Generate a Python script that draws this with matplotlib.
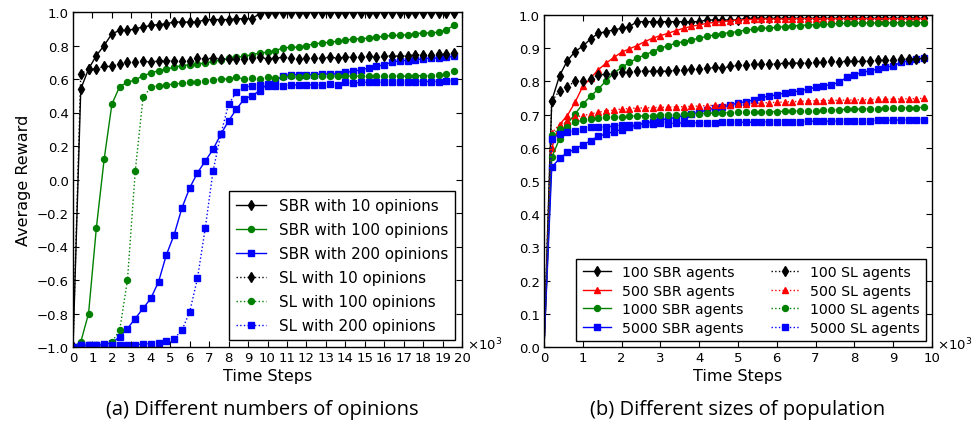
import numpy as np
import matplotlib
matplotlib.use("Agg")
import matplotlib.pyplot as plt

# ---------------- data: panel (a) ----------------
steps_a = np.arange(50) * 0.4  # x 10^3 time steps

sbr_10 = [-1.0, 0.54, 0.66, 0.74, 0.80, 0.87, 0.89, 0.89, 0.90, 0.91,
          0.92, 0.925, 0.93, 0.94, 0.94, 0.94, 0.94, 0.955, 0.955, 0.955,
          0.955, 0.96, 0.96, 0.96, 0.99, 0.997, 0.997, 0.997, 0.997, 0.997,
          0.997, 0.997, 0.997, 0.997, 0.997, 0.997, 0.997, 0.997, 0.997, 0.997,
          0.997, 0.997, 0.997, 0.997, 0.997, 0.997, 0.997, 0.997, 0.997, 0.997]
sbr_100 = [-1.0, -0.97, -0.80, -0.29, 0.12, 0.45, 0.555, 0.58, 0.595, 0.62,
           0.635, 0.65, 0.66, 0.67, 0.68, 0.685, 0.69, 0.695, 0.705, 0.713,
           0.723, 0.73, 0.735, 0.745, 0.755, 0.76, 0.77, 0.785, 0.79, 0.79,
           0.80, 0.81, 0.815, 0.82, 0.825, 0.83, 0.84, 0.84, 0.845, 0.85,
           0.855, 0.86, 0.86, 0.865, 0.87, 0.875, 0.875, 0.88, 0.895, 0.92]
sbr_200 = [-1.0, -0.99, -0.99, -0.99, -0.985, -0.975, -0.94, -0.89, -0.83, -0.77,
           -0.71, -0.61, -0.45, -0.33, -0.17, -0.05, 0.04, 0.11, 0.18, 0.27,
           0.35, 0.42, 0.48, 0.50, 0.53, 0.57, 0.59, 0.62, 0.625, 0.625,
           0.625, 0.625, 0.63, 0.63, 0.63, 0.64, 0.645, 0.655, 0.665, 0.675,
           0.685, 0.70, 0.71, 0.71, 0.715, 0.72, 0.725, 0.725, 0.73, 0.735]
sl_10 = [-1.0, 0.63, 0.66, 0.66, 0.675, 0.675, 0.69, 0.70, 0.70, 0.71,
         0.70, 0.71, 0.71, 0.71, 0.71, 0.71, 0.725, 0.72, 0.725, 0.72,
         0.72, 0.72, 0.72, 0.725, 0.73, 0.72, 0.725, 0.73, 0.725, 0.72,
         0.725, 0.725, 0.725, 0.73, 0.725, 0.73, 0.73, 0.73, 0.735, 0.73,
         0.735, 0.74, 0.735, 0.74, 0.745, 0.745, 0.745, 0.75, 0.75, 0.755]
sl_100 = [-1.0, -0.99, -0.99, -0.99, -0.99, -0.97, -0.90, -0.60, 0.05, 0.49,
          0.55, 0.56, 0.565, 0.57, 0.575, 0.58, 0.585, 0.59, 0.595, 0.60,
          0.60, 0.61, 0.60, 0.605, 0.60, 0.61, 0.605, 0.61, 0.615, 0.61,
          0.615, 0.62, 0.615, 0.62, 0.62, 0.615, 0.62, 0.615, 0.62, 0.62,
          0.615, 0.62, 0.62, 0.615, 0.62, 0.62, 0.62, 0.625, 0.63, 0.65]
sl_200 = [-1.0, -0.99, -0.99, -0.99, -0.99, -0.99, -0.99, -0.99, -0.99, -0.98,
          -0.98, -0.975, -0.965, -0.95, -0.90, -0.79, -0.59, -0.29, 0.05, 0.27,
          0.45, 0.52, 0.55, 0.56, 0.565, 0.56, 0.56, 0.56, 0.565, 0.565,
          0.565, 0.565, 0.565, 0.57, 0.565, 0.58, 0.575, 0.58, 0.58, 0.58,
          0.58, 0.58, 0.58, 0.58, 0.585, 0.585, 0.585, 0.585, 0.59, 0.59]

# ---------------- data: panel (b) ----------------
steps_b = np.arange(50) * 0.2  # x 10^3 time steps

sbr_a100 = [0.0, 0.742, 0.817, 0.862, 0.89, 0.906, 0.928, 0.945, 0.95, 0.955,
            0.96, 0.965, 0.98, 0.98, 0.98, 0.98, 0.98, 0.98, 0.98, 0.98,
            0.98, 0.985, 0.985, 0.985, 0.985, 0.985, 0.99, 0.99, 0.99, 0.99,
            0.99, 0.99, 0.99, 0.99, 0.99, 0.99, 0.99, 0.99, 0.99, 0.99,
            0.99, 0.99, 0.99, 0.99, 0.99, 0.99, 0.99, 0.99, 0.99, 0.99]
sbr_a500 = [0.0, 0.60, 0.67, 0.697, 0.737, 0.785, 0.81, 0.835, 0.855, 0.872,
            0.888, 0.898, 0.908, 0.92, 0.93, 0.938, 0.945, 0.953, 0.96, 0.966,
            0.97, 0.975, 0.978, 0.98, 0.983, 0.985, 0.986, 0.987, 0.988, 0.988,
            0.988, 0.988, 0.989, 0.989, 0.989, 0.989, 0.989, 0.989, 0.989, 0.989,
            0.989, 0.989, 0.989, 0.989, 0.989, 0.989, 0.989, 0.989, 0.989, 0.989]
sbr_a1000 = [0.0, 0.571, 0.627, 0.672, 0.702, 0.732, 0.755, 0.777, 0.802, 0.825,
             0.842, 0.857, 0.87, 0.88, 0.89, 0.90, 0.908, 0.915, 0.92, 0.925,
             0.93, 0.936, 0.94, 0.944, 0.947, 0.95, 0.955, 0.957, 0.96, 0.961,
             0.963, 0.965, 0.967, 0.968, 0.97, 0.971, 0.972, 0.973, 0.975, 0.975,
             0.975, 0.976, 0.976, 0.976, 0.976, 0.977, 0.977, 0.977, 0.977, 0.977]
sbr_a5000 = [0.0, 0.541, 0.568, 0.586, 0.596, 0.609, 0.621, 0.635, 0.642, 0.649,
             0.655, 0.662, 0.669, 0.674, 0.679, 0.684, 0.687, 0.692, 0.697, 0.702,
             0.707, 0.714, 0.719, 0.722, 0.729, 0.735, 0.739, 0.744, 0.752, 0.755,
             0.76, 0.765, 0.768, 0.772, 0.777, 0.782, 0.787, 0.79, 0.797, 0.812,
             0.82, 0.827, 0.832, 0.837, 0.842, 0.847, 0.857, 0.862, 0.867, 0.87]
sl_a100 = [0.0, 0.74, 0.772, 0.782, 0.802, 0.802, 0.807, 0.819, 0.822, 0.822,
           0.829, 0.829, 0.832, 0.832, 0.83, 0.832, 0.83, 0.835, 0.835, 0.838,
           0.838, 0.84, 0.842, 0.84, 0.845, 0.848, 0.85, 0.852, 0.853, 0.852,
           0.853, 0.855, 0.855, 0.856, 0.855, 0.858, 0.858, 0.86, 0.857, 0.862,
           0.86, 0.86, 0.862, 0.863, 0.864, 0.865, 0.866, 0.867, 0.868, 0.87]
sl_a500 = [0.0, 0.645, 0.67, 0.682, 0.692, 0.697, 0.702, 0.707, 0.712, 0.713,
           0.717, 0.718, 0.72, 0.72, 0.721, 0.722, 0.722, 0.723, 0.724, 0.725,
           0.726, 0.727, 0.728, 0.729, 0.73, 0.732, 0.733, 0.734, 0.735, 0.736,
           0.737, 0.738, 0.739, 0.74, 0.741, 0.742, 0.742, 0.743, 0.743, 0.744,
           0.744, 0.745, 0.745, 0.746, 0.746, 0.747, 0.747, 0.748, 0.748, 0.749]
sl_a1000 = [0.0, 0.64, 0.657, 0.663, 0.677, 0.684, 0.687, 0.69, 0.692, 0.692,
            0.693, 0.695, 0.696, 0.696, 0.697, 0.698, 0.699, 0.7, 0.701, 0.702,
            0.703, 0.704, 0.705, 0.706, 0.706, 0.707, 0.707, 0.708, 0.708, 0.709,
            0.709, 0.71, 0.71, 0.711, 0.711, 0.712, 0.713, 0.714, 0.715, 0.716,
            0.716, 0.717, 0.718, 0.718, 0.719, 0.72, 0.72, 0.721, 0.721, 0.722]
sl_a5000 = [0.0, 0.627, 0.642, 0.647, 0.652, 0.657, 0.662, 0.662, 0.663, 0.665,
            0.669, 0.669, 0.67, 0.672, 0.673, 0.675, 0.673, 0.674, 0.675, 0.675,
            0.676, 0.676, 0.676, 0.677, 0.677, 0.677, 0.677, 0.677, 0.678, 0.678,
            0.678, 0.679, 0.679, 0.679, 0.68, 0.68, 0.68, 0.68, 0.681, 0.681,
            0.682, 0.682, 0.682, 0.683, 0.683, 0.683, 0.684, 0.684, 0.685, 0.685]

labels_a = ["SBR with 10 opinions", "SBR with 100 opinions", "SBR with 200 opinions",
            "SL with 10 opinions", "SL with 100 opinions", "SL with 200 opinions"]
labels_b = ["100 SBR agents", "500 SBR agents", "1000 SBR agents", "5000 SBR agents",
            "100 SL agents", "500 SL agents", "1000 SL agents", "5000 SL agents"]
yticks_a = [-1.0, -0.8, -0.6, -0.4, -0.2, 0.0, 0.2, 0.4, 0.6, 0.8, 1.0]
yticks_b = [0.0, 0.1, 0.2, 0.3, 0.4, 0.5, 0.6, 0.7, 0.8, 0.9, 1.0]
caption_a = "(a) Different numbers of opinions"
caption_b = "(b) Different sizes of population"

# ---------------- figure ----------------
plt.rcParams['font.family'] = ['DejaVu Sans']
fig = plt.figure(figsize=(9.77, 4.31), dpi=100)
axA = fig.add_axes([73/977, 1-348/431, (462-73)/977, (348-13)/431])
axB = fig.add_axes([544/977, 1-348/431, (932-544)/977, (348-16)/431])

K, G, B, R = 'k', '#008000', '#0000ff', '#ff0000'
ms = {'d': 5.5, 'o': 4.3, 's': 4.3, '^': 4.5}

def style(ax):
    ax.tick_params(direction='in', top=True, right=True, length=4, width=0.8,
                   labelsize=9.5, pad=3, colors='k')
    for sp in ax.spines.values():
        sp.set_linewidth(1.0)

series_a = [(sbr_10, K, 'd', '-'), (sbr_100, G, 'o', '-'), (sbr_200, B, 's', '-'),
            (sl_10, K, 'd', ':'), (sl_100, G, 'o', ':'), (sl_200, B, 's', ':')]
for (vals, c, m, ls), lab in zip(series_a, labels_a):
    axA.plot(steps_a, vals, color=c, ls=ls, lw=1.0, marker=m, ms=ms[m],
             mec=c, mfc=c, label=lab)
axA.set_xlim(0, 20)
axA.set_ylim(-1.0, 1.0)
axA.set_xticks(np.arange(0, 21, 1))
axA.set_yticks(yticks_a)
axA.set_yticklabels([f"{v:.1f}".replace('-', '\u2212') for v in yticks_a])
style(axA)
axA.set_xlabel("Time Steps", fontsize=11.5, labelpad=3)
axA.set_ylabel("Average Reward", fontsize=11.5, labelpad=4)
legA = axA.legend(loc='lower right', fontsize=10.9, numpoints=1, handlelength=2.0,
                  fancybox=False, framealpha=1, edgecolor='k', borderpad=0.45,
                  labelspacing=0.6, handletextpad=0.85, borderaxespad=0.45)
legA.get_frame().set_linewidth(1.0)
axA.text(1.012, 0.01, r'$\times10^{3}$', transform=axA.transAxes, ha='left',
         va='center', fontsize=9.5)

series_b = [(sbr_a100, K, 'd', '-'), (sbr_a500, R, '^', '-'), (sbr_a1000, G, 'o', '-'),
            (sbr_a5000, B, 's', '-'), (sl_a100, K, 'd', ':'), (sl_a500, R, '^', ':'),
            (sl_a1000, G, 'o', ':'), (sl_a5000, B, 's', ':')]
for (vals, c, m, ls), lab in zip(series_b, labels_b):
    axB.plot(steps_b, vals, color=c, ls=ls, lw=1.0, marker=m, ms=ms[m],
             mec=c, mfc=c, label=lab, markevery=slice(1, None))
axB.set_xlim(0, 10)
axB.set_ylim(0.0, 1.0)
axB.set_xticks(np.arange(0, 11, 1))
axB.set_yticks(yticks_b)
axB.set_yticklabels([f"{v:.1f}" for v in yticks_b])
style(axB)
axB.set_xlabel("Time Steps", fontsize=11.5, labelpad=3)
legB = axB.legend(loc='lower right', ncol=2, fontsize=10.2, numpoints=1, handlelength=2.0,
                  fancybox=False, framealpha=1, edgecolor='k', borderpad=0.45,
                  labelspacing=0.32, handletextpad=0.78, columnspacing=1.9,
                  borderaxespad=0.4)
legB.get_frame().set_linewidth(1.0)
axB.text(1.012, 0.01, r'$\times10^{3}$', transform=axB.transAxes, ha='left',
         va='center', fontsize=9.5)

fig.text(262/977, 1-410/431, caption_a, ha='center', va='center', fontsize=14.5,
         family='Open Sans')
fig.text(738/977, 1-410/431, caption_b, ha='center', va='center', fontsize=14.5,
         family='Open Sans')

fig.savefig("out.png", dpi=100, facecolor='white')
